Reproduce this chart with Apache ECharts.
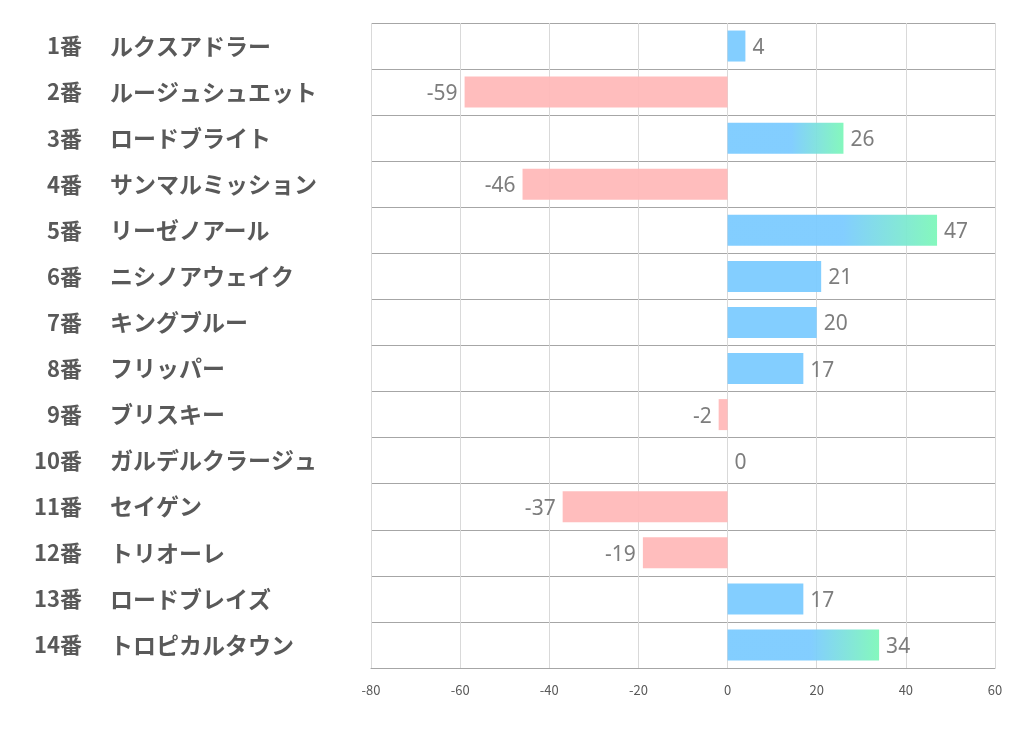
<!DOCTYPE html>
<html><head><meta charset="utf-8">
<script src="https://cdn.jsdelivr.net/npm/echarts@6/dist/echarts.min.js"></script>
<style>html,body{margin:0;padding:0;background:#fff}#c{width:1022px;height:730px}</style>
</head><body><div id="c"></div>
<script>
const nums = ['1番','2番','3番','4番','5番','6番','7番','8番','9番','10番','11番','12番','13番','14番'];
const names = ['ルクスアドラー','ルージュシュエット','ロードブライト','サンマルミッション','リーゼノアール','ニシノアウェイク','キングブルー','フリッパー','ブリスキー','ガルデルクラージュ','セイゲン','トリオーレ','ロードブレイズ','トロピカルタウン'];
const values = [4, -59, 26, -46, 47, 21, 20, 17, -2, 0, -37, -19, 17, 34];
const xTicks = [-80, -60, -40, -20, 0, 20, 40, 60];

const BLUE = '#7ccbff', GREEN = '#7ef7b9', PINK = '#ffb9b9';
const data = values.map(v => {
  let color;
  if (v < 0) color = PINK;
  else if (v > 25) color = new echarts.graphic.LinearGradient(0, 0, 1, 0, [
    {offset: 0, color: BLUE}, {offset: 0.55, color: BLUE}, {offset: 1, color: GREEN}]);
  else color = BLUE;
  return {
    value: v,
    itemStyle: {color: color, opacity: 0.95},
    label: {position: v < 0 ? 'left' : 'right'}
  };
});

const labelFont = {fontWeight: 'bold', color: '#595959', fontFamily: 'Noto Sans CJK JP'};
const chart = echarts.init(document.getElementById('c'), null, {renderer: 'canvas'});
chart.setOption({
  animation: false,
  grid: {left: 371, right: 27, top: 23, bottom: 62, containLabel: false},
  xAxis: {
    type: 'value', min: xTicks[0], max: xTicks[xTicks.length - 1], interval: 20,
    axisLine: {show: true, onZero: false, lineStyle: {color: '#a6a6a6', width: 1}},
    axisTick: {show: false},
    splitLine: {show: true, lineStyle: {color: '#d9d9d9', width: 1}},
    axisLabel: {color: '#595959', fontSize: 13, margin: 16, fontFamily: 'Noto Sans CJK JP'}
  },
  yAxis: [{
    type: 'category', inverse: true, data: names, position: 'left',
    axisLine: {show: false}, axisTick: {show: false},
    splitLine: {show: true, lineStyle: {color: '#a6a6a6', width: 1}},
    axisLabel: Object.assign({align: 'left', margin: 261, fontSize: 23, lineHeight: 23}, labelFont)
  }, {
    type: 'category', inverse: true, data: nums, position: 'left', offset: 0,
    axisLine: {show: false}, axisTick: {show: false}, splitLine: {show: false},
    axisLabel: Object.assign({align: 'right', margin: 289, fontSize: 22, lineHeight: 22}, labelFont)
  }],
  series: [{
    type: 'bar', data: data, barWidth: 31, yAxisIndex: 0,
    label: {show: true, color: '#767676', fontSize: 21, distance: 7, offset: [0, 2], fontFamily: 'Noto Sans'}
  }]
});
</script></body></html>
